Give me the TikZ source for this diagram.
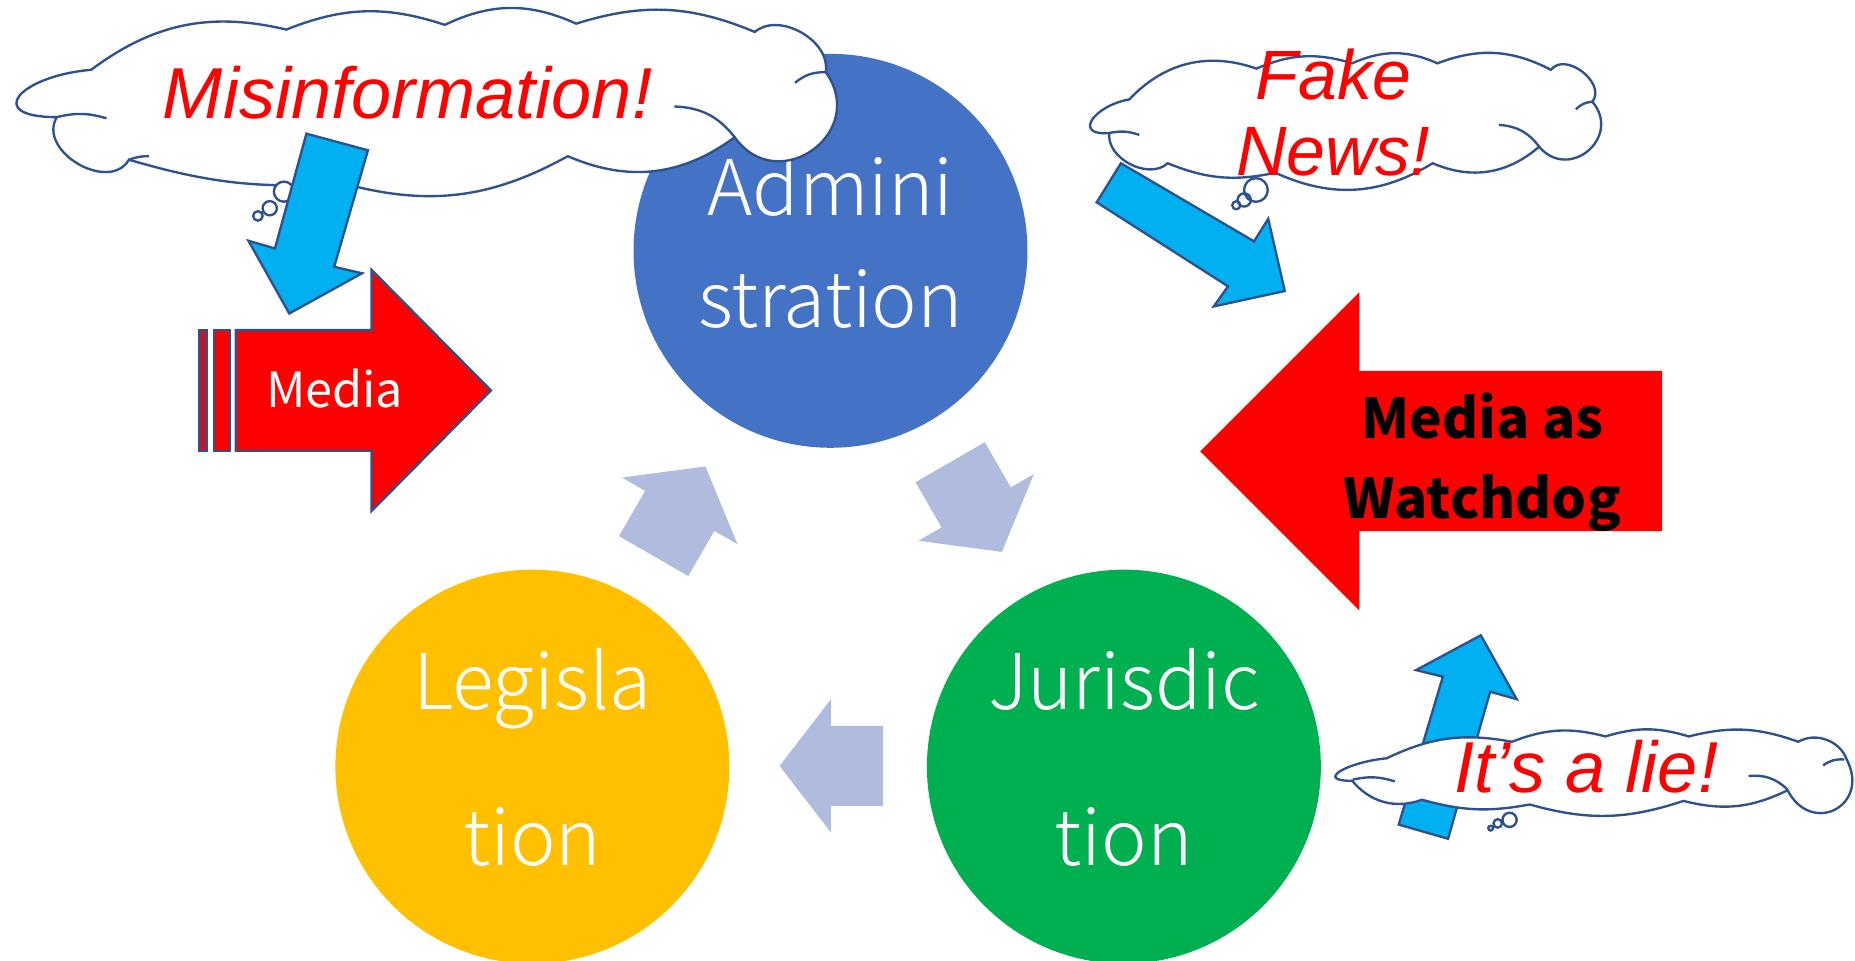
\documentclass[tikz,border=0pt]{standalone}
\usepackage{fontspec}
\setmainfont{Liberation Sans}
\IfFontExistsTF{Noto Sans CJK JP Light}
  {\newfontfamily\circlefont{Noto Sans CJK JP Light}}
  {\newfontfamily\circlefont{Noto Sans CJK JP}}
\newfontfamily\arrowfont{Noto Sans CJK JP}

\definecolor{admincolor}{HTML}{4472C4}
\definecolor{legiscolor}{HTML}{FFC000}
\definecolor{juriscolor}{HTML}{00B050}
\definecolor{cyclecolor}{HTML}{AFBCDE}
\definecolor{hintcolor}{HTML}{00B0F0}
\definecolor{linecolor}{HTML}{2F528F}

\newcommand\padbelow{\rule[-17pt]{0pt}{17pt}}
% cloud outline: start point, then point/out/in/looseness for every puff
\newcommand\cloudoutline[2]{%
  \filldraw[cloudline] (#1) foreach \pt/\ou/\in/\ls in {#2}
    { to[relative, out=\ou, in=\in, looseness=\ls] (\pt) } -- cycle;}
% the little hooks inside a cloud: from/to/bend
\newcommand\cloudhooks[1]{%
  \foreach \fr/\tp/\bd in {#1} \draw[hookline] (\fr) to[bend left=\bd] (\tp);}

\tikzset{
  stage/.style={circle, minimum size=333pt, inner sep=0pt, text=white, align=center,
    font=\circlefont\fontsize{65}{94.5}\selectfont},
  cyclearrow/.style={fill=cyclecolor},
  hintarrow/.style={fill=hintcolor, draw=linecolor, line width=2pt},
  mediaarrow/.style={fill=red, draw=linecolor, line width=2pt},
  cloudline/.style={fill=white, draw=linecolor, line width=2pt},
  hookline/.style={draw=linecolor, line width=2pt},
  shout/.style={text=red, align=center, inner sep=0pt,
    font=\itshape\fontsize{61}{64}\selectfont}
}

\begin{document}
\begin{tikzpicture}[x=1pt, y=-1pt]
  \useasboundingbox (0,0) rectangle (1568,812.3);

  % the three powers
  \node[stage, fill=admincolor] (admin) at (702,212) {Admini\\stration\padbelow};
  \node[stage, fill=legiscolor] (legis) at (450,648) {Legisla\\[37.5pt]tion\padbelow};
  \node[stage, fill=juriscolor] (juris) at (950,648) {Jurisdic\\[37.5pt]tion\padbelow};

  % cycle arrows
  \coordinate (cyc) at (700.7,502.7);
  \foreach \rot in {0,-120,120}
    \fill[cyclearrow, rotate around={\rot:(cyc)}]
      (659,647.4) -- (702.4,591) -- (702.4,613.6) -- (746.5,613.6)
      -- (746.5,681.2) -- (702.4,681.2) -- (702.4,703.7) -- cycle;

  % watchdog
  \fill[red] (1014.5,381.5) -- (1149,247) -- (1149,313.4) -- (1405,313.4)
    -- (1405,449) -- (1149,449) -- (1149,516) -- cycle;
  \node[align=center, inner sep=0pt, font=\arrowfont\bfseries\fontsize{46.5}{68}\selectfont]
    (watchdog) at (1253,390.5) {Media as\\Watchdog};

  % media
  \filldraw[mediaarrow] (168.5,279) rectangle (174.6,381);
  \filldraw[mediaarrow] (180.8,279) rectangle (194.4,381);
  \filldraw[mediaarrow] (199.4,279) -- (314,279) -- (314,228) -- (415,330)
    -- (314,432) -- (314,381) -- (199.4,381) -- cycle;
  \node[text=white, inner sep=0pt, font=\arrowfont\fontsize{41}{41}\selectfont]
    (media) at (283,328.5) {Media};

  % hints behind the clouds
  \filldraw[hintarrow] (947.5,138) -- (1060,204) -- (1072,185) -- (1086,246)
    -- (1026,259) -- (1038,242) -- (927,171) -- cycle;
  \filldraw[hintarrow] (1251.7,537) -- (1282,591) -- (1259.6,584.7) -- (1224,709)
    -- (1182.3,697) -- (1219.6,572) -- (1197,566.4) -- cycle;

  % misinformation cloud
  \cloudoutline{77,59}{{242,25}/25/155/1, {376,21}/20/160/1, {487,20}/25/155/1,
    {638,27}/20/160/1, {698,61}/70/110/1, {621,116}/90/90/1.7, {480,132}/30/150/1,
    {290,155}/22/158/1, {109,135}/10/170/1, {48,99}/90/90/1.2, {77,59}/126/131/3.2}
  \cloudhooks{{90,100}/{48,99}/-15, {570,90}/{621,116}/25, {672,70}/{698,61}/20,
    {126,132}/{109,135}/-10}
  \filldraw[cloudline] (240,162) circle (8.5) (228,176) circle (6) (218,182.5) circle (4);
  \filldraw[hintarrow] (259,113) -- (311,127) -- (282.5,225.5) -- (306,231)
    -- (244.5,265) -- (210,203.5) -- (232.4,210) -- cycle;

  % fake news cloud
  \cloudoutline{954.6,84}{{1062,58}/33/147/1, {1143,53.5}/20/160/1, {1215,53.5}/24/156/1,
    {1311,59}/24/156/1, {1346,86}/90/90/1.15, {1301,124}/90/90/1.7, {1211,138}/32/148/1,
    {1078,146}/28/152/1, {987,138}/17/163/1, {937.7,112.4}/70/110/1,
    {954.6,84}/126/131/2.4}
  \cloudhooks{{963,114}/{937.7,112.4}/-15, {1267,105.6}/{1301,124}/25,
    {1332,92.4}/{1346,86}/20}
  \filldraw[cloudline] (1061.6,160.6) circle (10) (1051.7,169) circle (5.6)
    (1045,173.5) circle (3.4);

  % lie cloud
  \cloudoutline{1172,641}{{1278,627}/18/162/1, {1357,622.5}/18/162/1, {1427.5,622.5}/17/163/1,
    {1520,627}/17/163/1, {1561,642}/50/130/1, {1511,668}/90/90/2, {1423,677}/20/160/1,
    {1293,680}/17/163/1, {1202,676}/13/167/1, {1143,660}/35/145/1,
    {1172,641}/147/152/2.4}
  \cloudhooks{{1179,660.5}/{1143.5,659}/-15, {1478,656}/{1511,667.5}/25,
    {1541,647}/{1559,642}/20}
  \filldraw[cloudline] (1276,693) circle (6) (1266,696) circle (3.6) (1260,700) circle (2);

  \node[shout] (misinfotext) at (344.5,78) {Misinformation!};
  \node[shout, font=\itshape\fontsize{59}{64}\selectfont] (fakenewstext) at (1127,95.3) {Fake\\News!};
  \node[shout] (lietext) at (1341,648) {It’s a lie!};
\end{tikzpicture}
\end{document}
